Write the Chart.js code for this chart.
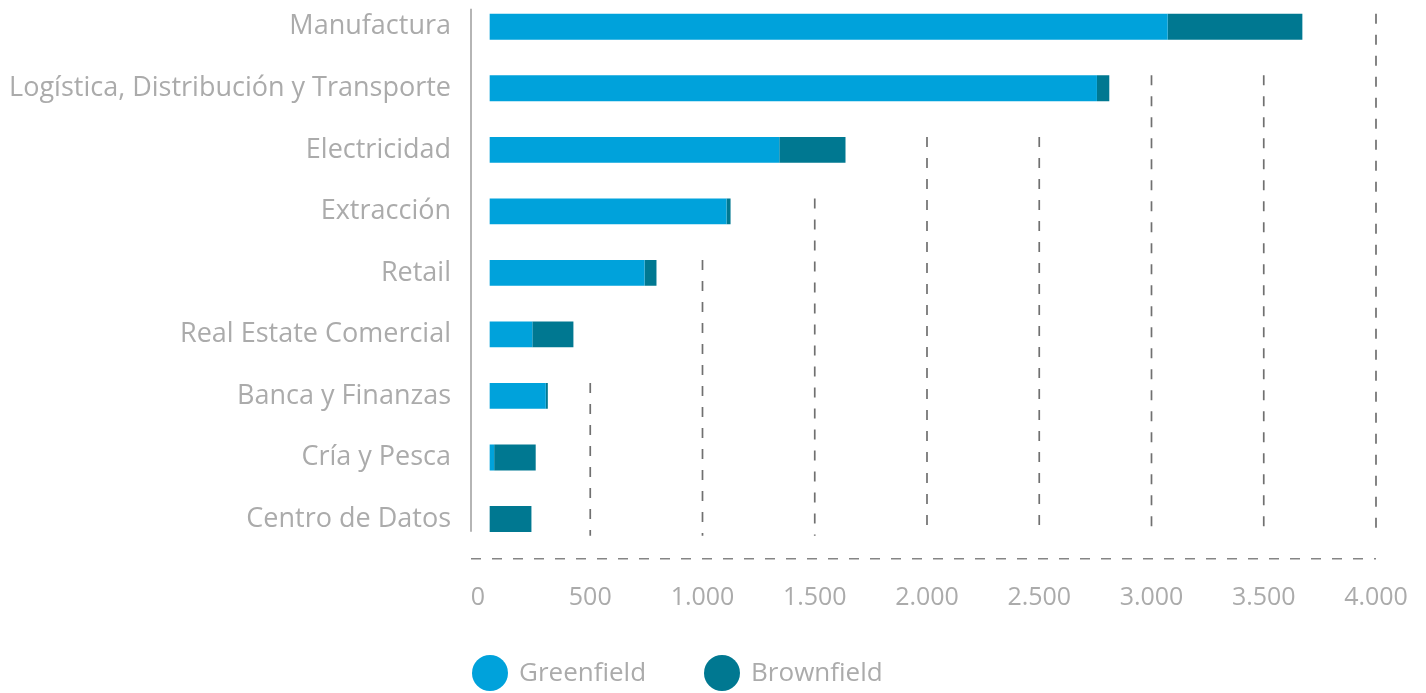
<!DOCTYPE html>
<html lang="es">
<head>
<meta charset="utf-8">
<title>Proyectos por sector</title>
<script src="https://cdn.jsdelivr.net/npm/chart.js@4.4.0/dist/chart.umd.min.js"></script>
<style>
    html, body { margin: 0; padding: 0; background: #fff; }
    .wrap { position: relative; width: 1426px; height: 693px; overflow: hidden; }
    /* canvas sits a few px above the page so the first row hugs the top edge */
    #sectorChart { position: absolute; left: 0; top: -4px; }
    .legend { position: absolute; left: 472px; top: 653px; display: flex; font-family: 'Open Sans', sans-serif; font-size: 26px; color: #ababab; }
    .legend-item { display: flex; align-items: center; margin-right: 58px; }
    .legend-dot { width: 36px; height: 36px; border-radius: 50%; margin-right: 11px; position: relative; top: 2px; }
</style>
</head>
<body>
<div class="wrap">
    <canvas id="sectorChart" width="1426" height="697"></canvas>
    <div class="legend" id="legend"></div>
</div>
<script>
    const categories = [
        'Manufactura',
        'Logística, Distribución y Transporte',
        'Electricidad',
        'Extracción',
        'Retail',
        'Real Estate Comercial',
        'Banca y Finanzas',
        'Cría y Pesca',
        'Centro de Datos'
    ];
    const greenfield = [3020, 2705, 1290, 1055, 690, 190, 250, 20, 0];
    const brownfield = [600, 55, 295, 18, 53, 183, 9, 185, 186];
    const axisMin = 0;
    const axisMax = 4000;
    const axisStep = 500;

    const textColor = '#ababab';
    const fontFamily = "'Open Sans', sans-serif";

    function formatThousands(v) {
        return String(v).replace(/\B(?=(\d{3})+(?!\d))/g, '.');
    }

    // dashed gridlines that stop above the bars reaching past them, plus the axis lines
    const guidesPlugin = {
        id: 'guides',
        beforeDatasetsDraw(chart) {
            const { ctx, chartArea, scales } = chart;
            const axis = scales.x2;
            const metas = chart.data.datasets.map((d, i) => chart.getDatasetMeta(i));
            const rows = categories.map((c, i) => {
                const els = metas.map(m => m.data[i]);
                const end = Math.max(...els.map(el => Math.max(el.x, el.base)));
                const top = els[0].y - els[0].height / 2;
                return { end: end, top: top, bottom: top + els[0].height };
            });
            const bottomY = chartArea.bottom - 14;

            ctx.save();
            ctx.strokeStyle = '#707070';
            ctx.lineWidth = 1.7;
            ctx.setLineDash([10, 11]);
            for (let v = axisMin + axisStep; v <= axisMax; v += axisStep) {
                const gx = axis.getPixelForValue(v);
                let last = -1;
                rows.forEach((r, i) => { if (r.end + 30 > gx) last = i; });
                const startY = last + 1 < rows.length ? rows[last + 1].top : bottomY;
                ctx.beginPath();
                ctx.moveTo(gx, startY);
                ctx.lineTo(gx, bottomY);
                ctx.stroke();
            }

            const x0 = axis.getPixelForValue(axisMin) - 7;
            ctx.strokeStyle = '#858585';
            ctx.beginPath();
            ctx.moveTo(x0, chartArea.bottom + 9);
            ctx.lineTo(axis.getPixelForValue(axisMax), chartArea.bottom + 9);
            ctx.stroke();

            ctx.setLineDash([]);
            ctx.strokeStyle = '#b5b5b5';
            ctx.lineWidth = 2;
            ctx.beginPath();
            ctx.moveTo(x0, rows[0].top - 5);
            ctx.lineTo(x0, chartArea.bottom - 18);
            ctx.stroke();
            ctx.restore();
        }
    };

    const ctx = document.getElementById('sectorChart').getContext('2d');
    const chart = new Chart(ctx, {
        type: 'bar',
        data: {
            labels: categories,
            datasets: [{
                label: 'Greenfield',
                data: greenfield,
                backgroundColor: '#00a2db',
                xAxisID: 'x'
            }, {
                label: 'Brownfield',
                data: brownfield,
                backgroundColor: '#007891',
                xAxisID: 'x'
            }]
        },
        options: {
            indexAxis: 'y',
            responsive: false,
            animation: false,
            devicePixelRatio: 1,
            barPercentage: 0.42,
            categoryPercentage: 1,
            layout: { padding: { top: 0, right: 50, bottom: 63.25, left: 0 } },
            scales: {
                // bars sit a little right of the visible zero
                x: {
                    stacked: true,
                    display: false,
                    min: -52,
                    max: 3948
                },
                x2: {
                    type: 'linear',
                    position: 'bottom',
                    min: axisMin,
                    max: axisMax,
                    grid: { display: false, drawTicks: false },
                    border: { display: false },
                    afterFit: (scale) => {
                        scale.height = 80;
                        scale.paddingLeft = 0;
                        scale.paddingRight = 0;
                    },
                    ticks: {
                        stepSize: axisStep,
                        padding: 33,
                        color: textColor,
                        font: { family: fontFamily, size: 25 },
                        maxRotation: 0,
                        autoSkip: false,
                        callback: (v) => formatThousands(v)
                    }
                },
                y: {
                    stacked: true,
                    grid: { display: false, drawTicks: false },
                    border: { display: false },
                    afterFit: (scale) => {
                        scale.width = 478;
                        scale.paddingTop = 0;
                        scale.paddingBottom = 0;
                    },
                    ticks: {
                        padding: 27,
                        color: textColor,
                        font: { family: fontFamily, size: 27 }
                    }
                }
            },
            plugins: {
                legend: { display: false },
                tooltip: { enabled: false }
            }
        },
        plugins: [guidesPlugin]
    });

    const legendEl = document.getElementById('legend');
    chart.data.datasets.forEach(ds => {
        const item = document.createElement('div');
        item.className = 'legend-item';
        const dot = document.createElement('span');
        dot.className = 'legend-dot';
        dot.style.background = ds.backgroundColor;
        const label = document.createElement('span');
        label.textContent = ds.label;
        item.appendChild(dot);
        item.appendChild(label);
        legendEl.appendChild(item);
    });
</script>
</body>
</html>
